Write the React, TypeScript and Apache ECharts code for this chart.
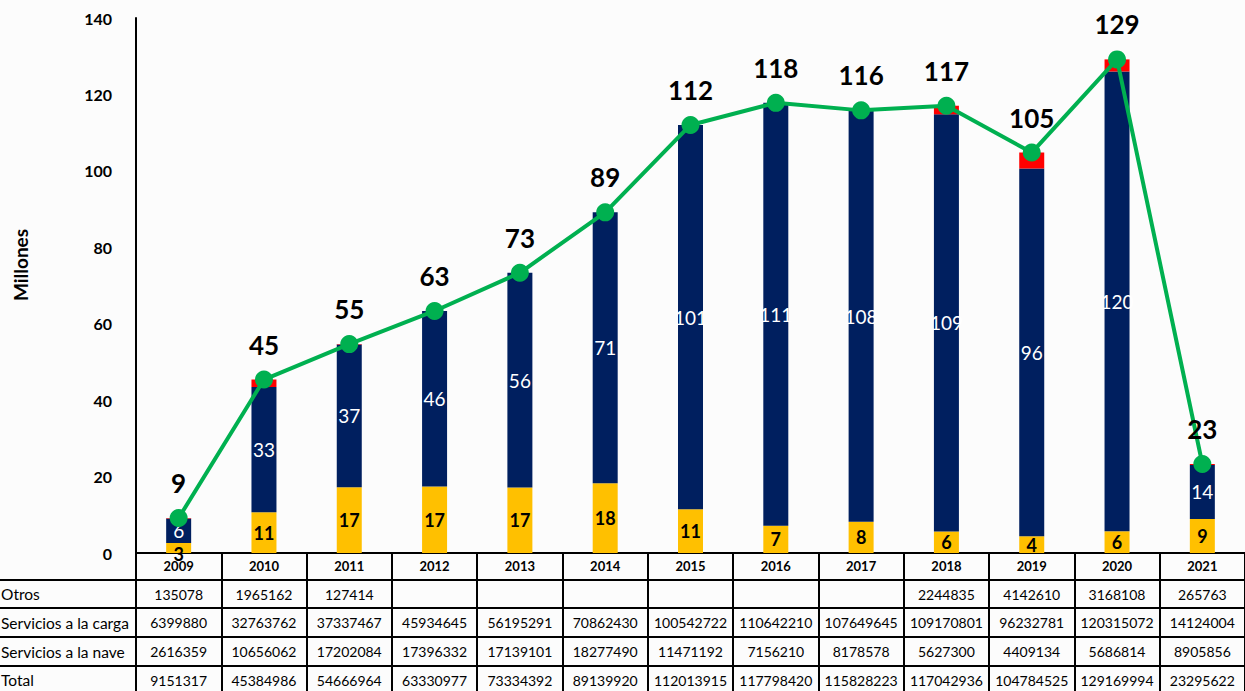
import React, { useEffect, useRef } from "react";
import * as echarts from "echarts";

const years = ["2009", "2010", "2011", "2012", "2013", "2014", "2015", "2016", "2017", "2018", "2019", "2020", "2021"];
const otros: (number | null)[] = [135078, 1965162, 127414, null, null, null, null, null, null, 2244835, 4142610, 3168108, 265763];
const carga = [6399880, 32763762, 37337467, 45934645, 56195291, 70862430, 100542722, 110642210, 107649645, 109170801, 96232781, 120315072, 14124004];
const nave = [2616359, 10656062, 17202084, 17396332, 17139101, 18277490, 11471192, 7156210, 8178578, 5627300, 4409134, 5686814, 8905856];
const total = [9151317, 45384986, 54666964, 63330977, 73334392, 89139920, 112013915, 117798420, 115828223, 117042936, 104784525, 129169994, 23295622];
const rowLabels = ["Otros", "Servicios a la carga", "Servicios a la nave", "Total"];
const yTicks = { min: 0, max: 140, interval: 20 };
const yName = "Millones";

const FONT = "Lato";
const toM = (v: number | null) => (v == null ? null : v / 1e6);

export default function App() {
  const ref = useRef<HTMLDivElement>(null);
  useEffect(() => {
    if (!ref.current) return;
    const chart = echarts.init(ref.current, null, { renderer: "svg" });
    const gridTop = 18;
    const gridBottom = 138;
    const H = 691;
    const axisY = H - gridBottom; // 553
    const rowOffsets = [0, 27, 55, 84, 113];
    const rowHeights = [27, 28, 29, 29, 27];
    const tableRows = [otros, carga, nave, total];

    const xAxes: any[] = rowOffsets.map((off, i) => ({
      type: "category",
      data: years,
      position: "bottom",
      offset: off,
      axisLine: { show: true, lineStyle: { color: "#000", width: 2 } },
      axisTick: { show: true, alignWithLabel: false, interval: 0, length: rowHeights[i], lineStyle: { color: "#000", width: 2 } },
      axisLabel: {
        show: true,
        interval: 0,
        margin: i === 0 ? 6 : 7,
        fontFamily: FONT,
        fontSize: i === 0 ? 13 : 14,
        fontWeight: i === 0 ? "bold" : "normal",
        color: "#000",
        formatter: i === 0 ? (v: string) => v : (_v: string, idx: number) => {
          const r = tableRows[i - 1][idx];
          return r == null ? "" : String(r);
        },
      },
      splitLine: { show: false },
    }));

    const graphics: any[] = [];
    for (let i = 1; i < rowOffsets.length; i++) {
      const y = axisY + rowOffsets[i];
      graphics.push({
        type: "line",
        shape: { x1: 0, y1: y, x2: 136, y2: y },
        style: { stroke: "#000", lineWidth: 2 },
      });
      graphics.push({
        type: "text",
        x: 1,
        y: y + rowHeights[i] / 2,
        style: { text: rowLabels[i - 1], fontFamily: FONT, fontSize: 15.5, fill: "#000", verticalAlign: "middle", align: "left" },
      });
    }
    graphics.push({
      type: "text",
      x: 20,
      y: 265,
      rotation: Math.PI / 2,
      style: { text: yName, fontFamily: FONT, fontSize: 19, fontWeight: "bold", fill: "#000", align: "center", verticalAlign: "middle" },
    });

    chart.setOption({
      animation: false,
      backgroundColor: "#fcfcfc",
      grid: { left: 136, right: -9, top: gridTop, bottom: gridBottom, containLabel: false },
      xAxis: xAxes,
      yAxis: {
        type: "value",
        min: yTicks.min,
        max: yTicks.max,
        interval: yTicks.interval,
        axisLine: { show: true, lineStyle: { color: "#000", width: 2 } },
        axisTick: { show: false },
        splitLine: { show: false },
        axisLabel: { margin: 24, fontFamily: FONT, fontSize: 16, fontWeight: "bold", color: "#000" },
      },
      graphic: graphics,
      series: [
        {
          name: "Servicios a la nave",
          type: "bar",
          stack: "s",
          barWidth: 25,
          data: nave.map(toM),
          itemStyle: { color: "#FFC000" },
          labelLayout: (p: any) => (p.rect && p.rect.height < 12 ? { dy: 6 } : {}),
          label: {
            show: true,
            position: "inside",
            fontFamily: FONT,
            fontSize: 18,
            fontWeight: "bold",
            color: "#000",
            formatter: (p: any) => String(Math.round(p.value)),
          },
        },
        {
          name: "Servicios a la carga",
          type: "bar",
          stack: "s",
          barWidth: 25,
          data: carga.map(toM),
          itemStyle: { color: "#001F5F" },
          label: {
            show: true,
            position: "inside",
            fontFamily: FONT,
            fontSize: 19,
            color: "#fff",
            formatter: (p: any) => String(Math.round(p.value)),
          },
        },
        {
          name: "Otros",
          type: "bar",
          stack: "s",
          barWidth: 25,
          data: otros.map(toM),
          itemStyle: { color: "#FF0000" },
        },
        {
          name: "Total",
          type: "line",
          z: 5,
          data: total.map(toM),
          lineStyle: { color: "#00B050", width: 4 },
          itemStyle: { color: "#00B050" },
          symbol: "circle",
          symbolSize: 18,
          label: {
            show: true,
            position: "top",
            distance: 13,
            fontFamily: FONT,
            fontSize: 26,
            fontWeight: "bold",
            color: "#000",
            formatter: (p: any) => String(Math.round(p.value)),
          },
        },
      ],
    });
    return () => chart.dispose();
  }, []);
  return <div ref={ref} style={{ position: "absolute", left: 0, top: 0, width: 1245, height: 691 }} />;
}
